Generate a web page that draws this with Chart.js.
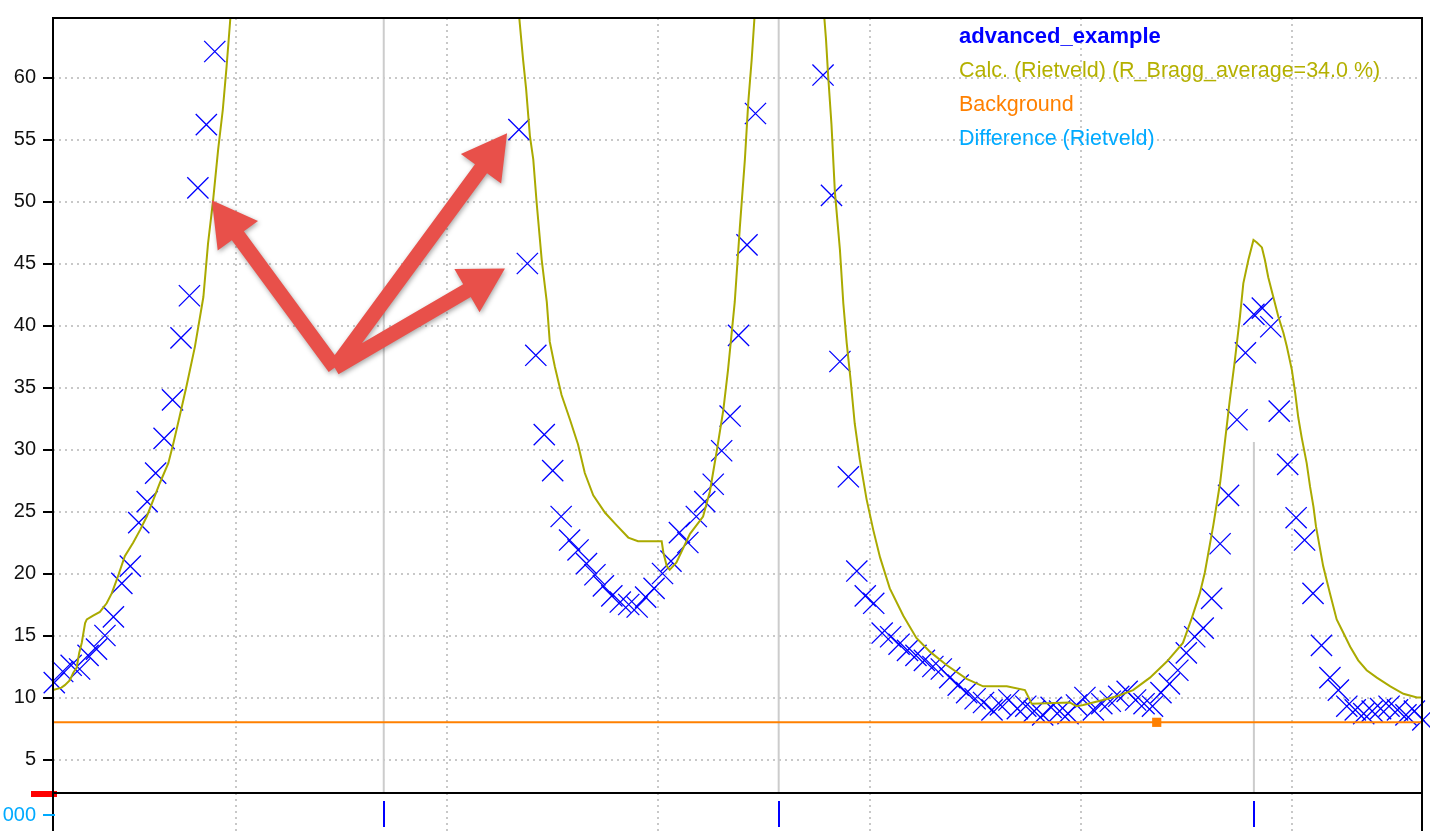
<!DOCTYPE html>
<html>
<head>
<meta charset="utf-8">
<title>advanced_example</title>
<script src="https://cdn.jsdelivr.net/npm/chart.js@4.4.1/dist/chart.umd.min.js"></script>
<style>
  html, body { margin: 0; padding: 0; background: #fff; }
  canvas { display: block; }
</style>
</head>
<body>
<canvas id="chart" width="1430" height="831"></canvas>
<script>
/* ================= DATA ================= */
// observed scan (2theta, intensity)
const obsX = [
  27.57, 27.59, 27.61, 27.63, 27.65, 27.67, 27.69, 27.71, 27.73, 27.75,
  27.77, 27.79, 27.81, 27.83, 27.85, 27.87, 27.89, 27.91, 27.93, 27.95,
  27.97, 27.99, 28.01, 28.03, 28.05, 28.07, 28.09, 28.11, 28.13, 28.15,
  28.17, 28.19, 28.21, 28.23, 28.25, 28.27, 28.29, 28.31, 28.33, 28.35,
  28.37, 28.39, 28.41, 28.43, 28.45, 28.47, 28.49, 28.51, 28.53, 28.55,
  28.57, 28.59, 28.61, 28.63, 28.65, 28.67, 28.69, 28.71, 28.73, 28.75,
  28.77, 28.79, 28.81, 28.83, 28.85, 28.87, 28.89, 28.91, 28.93, 28.95,
  28.97, 28.99, 29.01, 29.03, 29.05, 29.07, 29.09, 29.11, 29.13, 29.15,
  29.17, 29.19, 29.21, 29.23, 29.25, 29.27, 29.29, 29.31, 29.33, 29.35,
  29.37, 29.39, 29.41, 29.43, 29.45, 29.47, 29.49, 29.51, 29.53, 29.55,
  29.57, 29.59, 29.61, 29.63, 29.65, 29.67, 29.69, 29.71, 29.73, 29.75,
  29.77, 29.79, 29.81, 29.83, 29.85, 29.87, 29.89, 29.91, 29.93, 29.95,
  29.97, 29.99, 30.01, 30.03, 30.05, 30.07, 30.09, 30.11, 30.13, 30.15,
  30.17, 30.19, 30.21, 30.23, 30.25, 30.27, 30.29, 30.31, 30.33, 30.35,
  30.37, 30.39, 30.41, 30.43, 30.45, 30.47, 30.49, 30.51, 30.53, 30.55,
  30.57, 30.59, 30.61, 30.63, 30.65, 30.67, 30.69, 30.71, 30.73, 30.75,
  30.77, 30.79, 30.81
];
const obsY = [
  11.2, 12.1, 12.6, 12.3, 13.4, 13.9, 15.0, 16.5, 19.2, 20.6,
  24.1, 25.8, 28.1, 30.9, 34.0, 39.0, 42.4, 51.1, 56.2, 62.1,
  70, 79, 90, 104, 121, 142, 168, 196, 228, 260,
  290, 316, 335, 347, 352, 350, 340, 322, 298, 270,
  240, 210, 182, 158, 138, 121, 107, 96, 88, 82,
  78, 75, 72, 70, 68, 55.8, 45.0, 37.6, 31.2, 28.3,
  24.6, 22.7, 21.9, 20.8, 19.9, 19.0, 18.2, 17.7, 17.5, 17.3,
  18.1, 18.8, 20.0, 21.0, 23.3, 22.5, 24.6, 25.8, 27.2, 29.9,
  32.7, 39.2, 46.5, 57.1, 72, 95, 130, 150, 135, 105,
  76, 60.2, 50.5, 37.1, 27.8, 20.2, 18.2, 17.6, 15.2, 14.9,
  14.3, 13.8, 13.4, 13.0, 12.5, 12.3, 11.6, 11.0, 10.4, 9.9,
  9.6, 9.0, 9.4, 9.8, 9.1, 9.3, 8.9, 8.6, 9.2, 8.9,
  8.7, 9.4, 10.0, 9.0, 9.5, 9.7, 10.1, 10.5, 9.8, 9.5,
  9.3, 10.4, 11.1, 12.2, 13.6, 14.9, 15.6, 18.0, 22.4, 26.3,
  32.4, 37.8, 40.9, 41.4, 39.9, 33.1, 28.8, 24.5, 22.7, 18.4,
  14.2, 11.6, 10.6, 9.3, 9.0, 8.7, 8.9, 9.1, 9.3, 9.0,
  8.6, 8.9, 8.2
];

// calculated (Rietveld) profile
const calcX = [
  27.567, 27.587, 27.595, 27.607, 27.615, 27.623, 27.629, 27.635, 27.643, 27.647,
  27.662, 27.678, 27.694, 27.706, 27.718, 27.737, 27.757, 27.773, 27.789, 27.804,
  27.820, 27.840, 27.852, 27.867, 27.883, 27.903, 27.923, 27.934, 27.946, 27.958,
  27.969, 27.978, 27.986, 28.009, 28.057, 28.128, 28.223, 28.305, 28.350, 28.412,
  28.507, 28.601, 28.649, 28.665, 28.680, 28.687, 28.696, 28.704, 28.712, 28.724,
  28.736, 28.743, 28.755, 28.771, 28.791, 28.810, 28.826, 28.846, 28.874, 28.901,
  28.929, 28.952, 29.008, 29.012, 29.020, 29.027, 29.043, 29.075, 29.106, 29.122,
  29.138, 29.154, 29.165, 29.181, 29.193, 29.205, 29.213, 29.221, 29.229, 29.252,
  29.286, 29.323, 29.364, 29.388, 29.397, 29.402, 29.410, 29.418, 29.430, 29.438,
  29.446, 29.455, 29.465, 29.477, 29.493, 29.509, 29.525, 29.548, 29.580, 29.611,
  29.643, 29.683, 29.730, 29.769, 29.825, 29.868, 29.884, 29.974, 29.990, 30.006,
  30.053, 30.086, 30.124, 30.164, 30.204, 30.242, 30.263, 30.282, 30.294, 30.314,
  30.330, 30.341, 30.353, 30.365, 30.377, 30.385, 30.397, 30.409, 30.417, 30.429,
  30.436, 30.444, 30.456, 30.468, 30.480, 30.488, 30.500, 30.508, 30.515, 30.523,
  30.535, 30.543, 30.551, 30.557, 30.574, 30.590, 30.606, 30.622, 30.638, 30.657,
  30.677, 30.701, 30.733, 30.764, 30.796, 30.808
];
const calcY = [
  10.6, 10.8, 11.0, 11.4, 12.0, 12.4, 13.6, 14.4, 16.0, 16.3,
  16.6, 16.9, 17.6, 18.4, 19.5, 21.4, 22.5, 23.5, 24.6, 25.9,
  27.3, 28.9, 30.5, 32.7, 35.1, 38.3, 42.3, 46.6, 50.1, 54.2,
  57.4, 60.9, 64.4, 75, 95, 130, 180, 210, 220, 205,
  165, 115, 80, 67, 61.4, 59.1, 55.3, 53.4, 49.9, 45.3,
  41.9, 38.7, 36.7, 34.4, 32.4, 30.4, 28.1, 26.3, 24.9, 23.9,
  22.9, 22.6, 22.6, 21.7, 20.6, 20.3, 20.9, 23.2, 24.6, 26.6,
  29.8, 33.2, 36.4, 41.9, 47.9, 53.4, 58.0, 61.4, 65.5, 90,
  130, 115, 80, 67, 63.1, 60.2, 56.2, 50.8, 46.1, 41.8,
  38.6, 35.7, 32.1, 29.2, 26.0, 23.5, 21.3, 18.8, 16.6, 14.8,
  13.7, 12.6, 11.5, 10.9, 10.9, 10.6, 9.5, 9.6, 9.3, 9.4,
  9.8, 10.1, 10.6, 11.6, 12.9, 14.4, 16.4, 18.4, 20.1, 23.9,
  27.3, 30.5, 34.0, 37.2, 40.7, 43.4, 45.3, 46.9, 46.7, 46.3,
  45.3, 43.9, 42.3, 40.7, 39.4, 38.3, 36.4, 34.5, 32.6, 31.0,
  28.9, 27.0, 25.4, 23.8, 20.6, 18.4, 16.3, 15.2, 14.1, 13.0,
  12.2, 11.6, 10.9, 10.3, 10.0, 10.0
];

// background
const bgX = [27.567, 30.18, 30.808];
const bgY = [8.0, 8.0, 8.0];

// Bragg reflection positions and marker heights
const braggX = [28.35, 29.285, 30.41];
const braggH = [100, 100, 30.6];

// axes
const xMin = 27.567, xMax = 30.808;
const yMin = 2.3, yMax = 64.8;
const xGrid = [28.0, 28.5, 29.0, 29.5, 30.0, 30.5];
const yTicks = [5, 10, 15, 20, 25, 30, 35, 40, 45, 50, 55, 60];

// legend text
const legendTitle = "advanced_example";
const legendItems = ["Calc. (Rietveld) (R_Bragg_average=34.0 %)", "Background", "Difference (Rietveld)"];
const legendColors = ["#b4b000", "#ff8000", "#00aaff"];

// annotation arrows (data coordinates)
const arrowTail = [28.234, 36.6];
const arrowTipX = [27.943, 28.642, 28.637];
const arrowTipY = [50.1, 55.5, 44.6];

/* ================= HELPERS ================= */
const FONT = "'Liberation Sans', Arial, sans-serif";

const zip = (xs, ys) => xs.map((x, i) => ({ x: x, y: ys[i] }));

const braggData = [];
braggX.forEach((x, i) => {
  braggData.push({ x: x, y: yMin });
  braggData.push({ x: x, y: braggH[i] });
  braggData.push({ x: x, y: null });
});

const addArrow = (ctx, x1, y1, x2, y2) => {
  const ang = Math.atan2(y2 - y1, x2 - x1);
  const headLen = 44, headHalf = 25, shaft = 15;
  const nx = -Math.sin(ang), ny = Math.cos(ang);
  const bx = x2 - headLen * Math.cos(ang), by = y2 - headLen * Math.sin(ang);
  ctx.moveTo(x1 + nx * shaft / 2, y1 + ny * shaft / 2);
  ctx.lineTo(bx + nx * shaft / 2, by + ny * shaft / 2);
  ctx.lineTo(bx + nx * headHalf, by + ny * headHalf);
  ctx.lineTo(x2, y2);
  ctx.lineTo(bx - nx * headHalf, by - ny * headHalf);
  ctx.lineTo(bx - nx * shaft / 2, by - ny * shaft / 2);
  ctx.lineTo(x1 - nx * shaft / 2, y1 - ny * shaft / 2);
  ctx.closePath();
};

/* ================= PLUGIN ================= */
const extras = {
  id: "extras",
  afterDraw(chart) {
    const { ctx, chartArea: a, scales: { x, y } } = chart;
    const H = chart.height;

    ctx.save();

    // red zero marker on the left
    ctx.fillStyle = "#ff0000";
    ctx.fillRect(a.left - 22, a.bottom - 2, 26, 6);

    // frame
    ctx.strokeStyle = "#000";
    ctx.lineWidth = 2;
    ctx.beginPath();
    ctx.moveTo(a.left, a.top); ctx.lineTo(a.right, a.top);
    ctx.moveTo(a.left, a.bottom); ctx.lineTo(a.right, a.bottom);
    ctx.moveTo(a.left, a.top - 1); ctx.lineTo(a.left, H);
    ctx.moveTo(a.right, a.top - 1); ctx.lineTo(a.right, H);
    ctx.stroke();

    // Bragg ticks below the plot
    ctx.strokeStyle = "#0000ff";
    ctx.beginPath();
    braggX.forEach(v => {
      const px = Math.round(x.getPixelForValue(v));
      ctx.moveTo(px, a.bottom + 8);
      ctx.lineTo(px, a.bottom + 34);
    });
    ctx.stroke();

    // difference axis stub
    ctx.strokeStyle = "#00aaff";
    ctx.beginPath();
    ctx.moveTo(a.left - 10, a.bottom + 22);
    ctx.lineTo(a.left + 2, a.bottom + 22);
    ctx.stroke();
    ctx.fillStyle = "#00aaff";
    ctx.font = "20px " + FONT;
    ctx.textAlign = "right";
    ctx.textBaseline = "middle";
    ctx.fillText("000", a.left - 17, a.bottom + 22);

    // arrows
    ctx.shadowColor = "rgba(0,0,0,0.35)";
    ctx.shadowBlur = 5;
    ctx.shadowOffsetX = 1;
    ctx.shadowOffsetY = 2;
    ctx.fillStyle = "#e8504a";
    ctx.beginPath();
    const tx = x.getPixelForValue(arrowTail[0]);
    const ty = y.getPixelForValue(arrowTail[1]);
    arrowTipX.forEach((v, i) => {
      addArrow(ctx, tx, ty, x.getPixelForValue(v), y.getPixelForValue(arrowTipY[i]));
    });
    ctx.fill("nonzero");
    ctx.shadowColor = "transparent";

    // legend
    const lx = a.right - 463;
    const ly = a.top + 19;
    ctx.textAlign = "left";
    ctx.textBaseline = "middle";
    ctx.font = "bold 22px " + FONT;
    ctx.fillStyle = "#0000ff";
    ctx.fillText(legendTitle, lx, ly);
    ctx.font = "21.5px " + FONT;
    legendItems.forEach((t, i) => {
      ctx.fillStyle = legendColors[i];
      ctx.fillText(t, lx, ly + 34 * (i + 1));
    });

    ctx.restore();
  }
};

/* ================= CHART ================= */
new Chart(document.getElementById("chart"), {
  type: "line",
  data: {
    datasets: [
      {
        label: "Bragg positions",
        data: braggData,
        borderColor: "#cccccc",
        borderWidth: 2,
        pointRadius: 0,
        spanGaps: false,
        order: 4
      },
      {
        label: legendTitle,
        data: zip(obsX, obsY),
        showLine: false,
        pointStyle: "crossRot",
        pointRadius: 15,
        pointBorderColor: "#0000ff",
        pointBorderWidth: 1.3,
        pointBackgroundColor: "#0000ff",
        clip: { left: 12, top: 0, right: 10, bottom: 0 },
        order: 3
      },
      {
        label: legendItems[0],
        data: zip(calcX, calcY),
        borderColor: "#aaaa00",
        borderWidth: 2,
        pointRadius: 0,
        tension: 0,
        order: 2
      },
      {
        label: legendItems[1],
        data: zip(bgX, bgY),
        borderColor: "#ff8000",
        borderWidth: 2,
        pointStyle: "rect",
        pointRadius: [0, 6.5, 0],
        pointBackgroundColor: "#ff8000",
        pointBorderColor: "#ff8000",
        pointBorderWidth: 0,
        order: 1
      }
    ]
  },
  options: {
    responsive: false,
    animation: false,
    events: [],
    layout: { autoPadding: false, padding: { top: 18, right: 8, left: 0, bottom: 0 } },
    plugins: {
      legend: { display: false },
      tooltip: { enabled: false }
    },
    scales: {
      x: {
        type: "linear",
        min: xMin,
        max: xMax,
        afterBuildTicks: s => { s.ticks = xGrid.map(v => ({ value: v })); },
        afterFit: s => { s.height = 38; },
        ticks: { display: false },
        grid: {
          color: "#c8c8c8",
          lineWidth: 2,
          drawTicks: true,
          tickLength: 38,
          tickColor: "#c8c8c8",
          tickWidth: 2,
          tickBorderDash: [2, 4]
        },
        border: { display: false, dash: [2, 4] }
      },
      y: {
        type: "linear",
        min: yMin,
        max: yMax,
        afterBuildTicks: s => { s.ticks = yTicks.map(v => ({ value: v })); },
        afterFit: s => { s.width = 53; },
        ticks: {
          padding: 7,
          color: "#111",
          font: { family: FONT, size: 20, lineHeight: 1 }
        },
        grid: {
          color: "#c8c8c8",
          lineWidth: 2,
          tickLength: 10,
          tickColor: "#000",
          tickWidth: 2,
          tickBorderDash: []
        },
        border: { display: false, dash: [2, 4] }
      }
    }
  },
  plugins: [extras]
});
</script>
</body>
</html>
